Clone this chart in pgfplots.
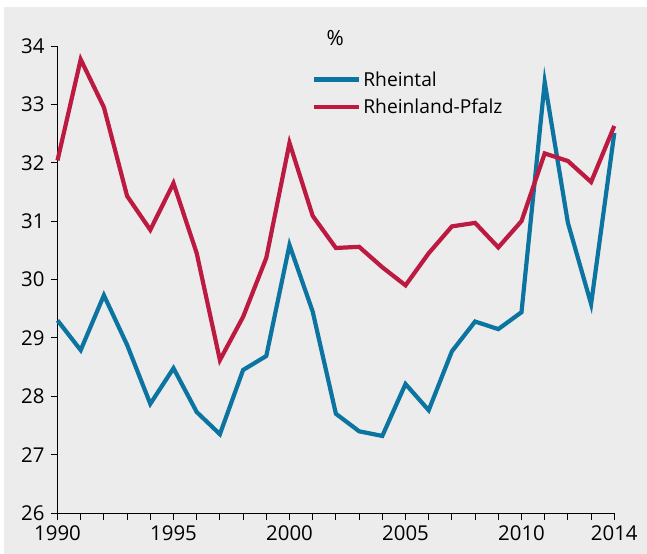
\documentclass[border=0pt]{standalone}
\usepackage{pgfplots}
\pgfplotsset{compat=1.18}
\usepackage{fontspec}
\setmainfont{Open Sans}
\definecolor{bg}{HTML}{ECECEC}
\definecolor{cblue}{HTML}{0B74A0}
\definecolor{cred}{HTML}{BC1A40}
\pgfplotstableread{
year rheintal rlp
1990 29.30 32.04
1991 28.79 33.77
1992 29.73 32.95
1993 28.88 31.43
1994 27.87 30.85
1995 28.48 31.65
1996 27.73 30.45
1997 27.35 28.62
1998 28.45 29.36
1999 28.69 30.37
2000 30.59 32.34
2001 29.45 31.09
2002 27.70 30.54
2003 27.40 30.56
2004 27.32 30.21
2005 28.21 29.90
2006 27.76 30.45
2007 28.77 30.91
2008 29.28 30.97
2009 29.15 30.55
2010 29.44 31.00
2011 33.38 32.16
2012 30.97 32.03
2013 29.58 31.67
2014 32.51 32.63
}\datatable
\begin{document}
\begin{tikzpicture}
\useasboundingbox (0,0) rectangle (647bp,-554bp);
\fill[bg] (4bp,-7bp) rectangle (647bp,-554bp);
\begin{axis}[
  at={(57.5bp,-513bp)}, anchor=south west,
  scale only axis, width=556.8bp, height=467bp,
  xmin=1990, xmax=2014, ymin=26, ymax=34,
  axis lines*=left,
  tick pos=left,
  clip=false,
  axis line style={black, line width=0.8bp},
  tick style={black, line width=0.8bp},
  tick align=outside,
  major tick length=7bp,
  minor tick length=7bp,
  xtick={1990,1995,2000,2005,2010,2014},
  minor xtick={1990,...,2014},
  ytick={26,...,34},
  tick label style={font=\fontsize{20.5}{23}\selectfont},
  xticklabel style={yshift=-2.5bp},
  yticklabel style={xshift=-2.5bp},
  /pgf/number format/assume math mode=true,
  /pgf/number format/1000 sep={},
  legend style={at={(0.457,0.950)}, anchor=north west, draw=none, fill=none,
    inner sep=0pt, font=\fontsize{19.3}{22}\selectfont, row sep=7bp,
    /tikz/every even column/.append style={column sep=0bp}},
  legend cell align=left,
  legend image code/.code={\draw[#1, line width=4.2bp] (0bp,0bp) -- (45bp,0bp);},
]
\addplot[cblue, line width=4.2bp] table[x=year, y=rheintal] {\datatable};
\addlegendentry{Rheintal}
\addplot[cred, line width=4.2bp] table[x=year, y=rlp] {\datatable};
\addlegendentry{Rheinland-Pfalz}
\node[font=\fontsize{21}{23}\selectfont] at (axis description cs:0.499,1.017) {\%};
\end{axis}
\end{tikzpicture}
\end{document}
